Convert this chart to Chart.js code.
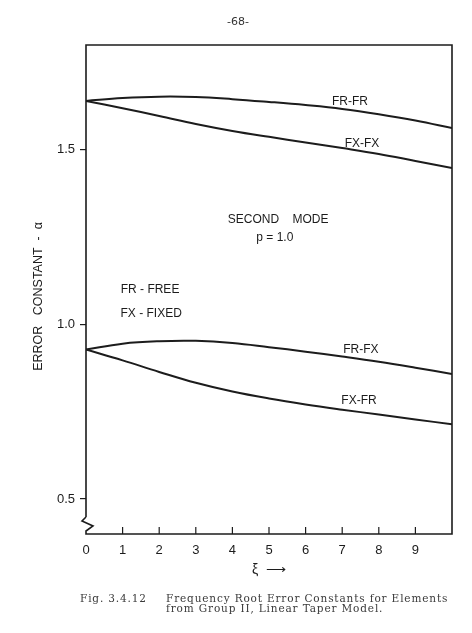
<!DOCTYPE html>
<html>
<head>
<meta charset="utf-8">
<script src="https://cdn.jsdelivr.net/npm/chart.js@4.4.1/dist/chart.umd.min.js"></script>
<style>
  html, body { margin: 0; padding: 0; background: #fff; }
  #wrap { position: relative; width: 472px; height: 633px; }
  #page { position: absolute; left: 2px; top: 15px; width: 472px; text-align: center;
          font: 11px "DejaVu Sans", sans-serif; color: #333; }
  .cap { position: absolute; font: 10.5px "DejaVu Serif", serif; color: #3a3a3a;
         letter-spacing: 0.85px; line-height: 10px; white-space: pre; }
</style>
</head>
<body>
<div id="wrap">
  <canvas id="chart" width="472" height="633"></canvas>
  <div id="page">-68-</div>
  <div class="cap" style="left:80px; top:593px;">Fig. 3.4.12</div>
  <div class="cap" style="left:166px; top:593px;">Frequency Root Error Constants for Elements
from Group II, Linear Taper Model.</div>
</div>
<script>
// ---------------- données ----------------
const xi = [0, 1, 2, 3, 4, 5, 6, 7, 8, 9, 10];
const frfr = [1.640, 1.648, 1.652, 1.651, 1.645, 1.637, 1.628, 1.617, 1.602, 1.584, 1.562];
const fxfx = [1.640, 1.619, 1.597, 1.574, 1.554, 1.537, 1.521, 1.505, 1.488, 1.468, 1.448];
const frfx = [0.928, 0.945, 0.952, 0.953, 0.947, 0.935, 0.922, 0.908, 0.893, 0.876, 0.858];
const fxfr = [0.928, 0.897, 0.864, 0.833, 0.808, 0.788, 0.771, 0.756, 0.742, 0.728, 0.714];

const xTicks = [0, 1, 2, 3, 4, 5, 6, 7, 8, 9];
const yTicks = [0.5, 1.0, 1.5];

// textes posés dans le graphique (coordonnées en unités des axes)
const notes = [
  { text: "FR-FR", x: 7.21, y: 1.637 },
  { text: "FX-FX", x: 7.54, y: 1.517 },
  { text: "SECOND    MODE", x: 5.25, y: 1.299 },
  { text: "p = 1.0", x: 5.16, y: 1.247 },
  { text: "FR - FREE", x: 1.75, y: 1.099 },
  { text: "FX - FIXED", x: 1.78, y: 1.030 },
  { text: "FR-FX", x: 7.51, y: 0.927 },
  { text: "FX-FR", x: 7.46, y: 0.781 }
];

const ink = "#1c1c1c";
const font = '"Liberation Sans", Arial, sans-serif';

function series(values) {
  return xi.map((x, i) => ({ x: x, y: values[i] }));
}

function curve(label, values) {
  return {
    label: label,
    data: series(values),
    borderColor: ink,
    borderWidth: 2,
    pointRadius: 0,
    tension: 0.4,
    fill: false
  };
}

// cadre, coupure de l'axe, graduations internes et étiquettes
const decor = {
  id: 'decor',
  afterDatasetsDraw(chart) {
    const { ctx, chartArea: a, scales } = chart;
    ctx.save();
    ctx.strokeStyle = ink;
    ctx.lineWidth = 1.6;
    ctx.beginPath();
    ctx.moveTo(a.left, a.bottom - 17);
    ctx.lineTo(a.left, a.top);
    ctx.lineTo(a.right, a.top);
    ctx.lineTo(a.right, a.bottom);
    ctx.lineTo(a.left, a.bottom);
    ctx.lineTo(a.left, a.bottom - 3);
    ctx.lineTo(a.left + 7, a.bottom - 8);
    ctx.lineTo(a.left - 4, a.bottom - 13);
    ctx.lineTo(a.left, a.bottom - 17);
    ctx.stroke();

    ctx.lineWidth = 1.2;
    xTicks.forEach(t => {
      if (t === 0) return;
      const px = scales.x.getPixelForValue(t);
      ctx.beginPath();
      ctx.moveTo(px, a.bottom);
      ctx.lineTo(px, a.bottom - 7);
      ctx.stroke();
    });

    ctx.fillStyle = ink;
    ctx.font = '12px ' + font;
    ctx.textAlign = 'center';
    ctx.textBaseline = 'middle';
    notes.forEach(n => {
      ctx.fillText(n.text, scales.x.getPixelForValue(n.x), scales.y.getPixelForValue(n.y));
    });
    ctx.restore();
  }
};

new Chart(document.getElementById('chart'), {
  type: 'line',
  data: {
    datasets: [
      curve('FR-FR', frfr),
      curve('FX-FX', fxfx),
      curve('FR-FX', frfx),
      curve('FX-FR', fxfr)
    ]
  },
  options: {
    responsive: false,
    animation: false,
    layout: { padding: { top: 45, right: 20, bottom: 0, left: 0 } },
    plugins: {
      legend: { display: false },
      tooltip: { enabled: false }
    },
    scales: {
      x: {
        type: 'linear',
        min: 0,
        max: 10,
        afterBuildTicks: s => { s.ticks = xTicks.map(v => ({ value: v })); },
        afterFit: s => { s.height = 99; },
        grid: { display: false, drawTicks: false },
        border: { display: false },
        ticks: { color: ink, padding: 9, font: { family: font, size: 13 } },
        title: {
          display: true,
          text: 'ξ  ⟶',
          color: ink,
          font: { family: font, size: 14 },
          padding: { top: 0, bottom: 54 }
        }
      },
      y: {
        min: 0.4,
        max: 1.8,
        afterBuildTicks: s => { s.ticks = yTicks.map(v => ({ value: v })); },
        afterFit: s => { s.width = 86; },
        grid: { drawOnChartArea: false, drawTicks: true, tickLength: 6, color: ink, lineWidth: 1.2 },
        border: { display: false },
        ticks: {
          color: ink,
          padding: 5,
          font: { family: font, size: 13 },
          callback: v => v.toFixed(1)
        },
        title: {
          display: true,
          text: 'ERROR   CONSTANT  -  α    ',
          color: ink,
          font: { family: font, size: 12.5 },
          padding: { top: 31, bottom: 0 }
        }
      }
    }
  },
  plugins: [decor]
});
</script>
</body>
</html>
